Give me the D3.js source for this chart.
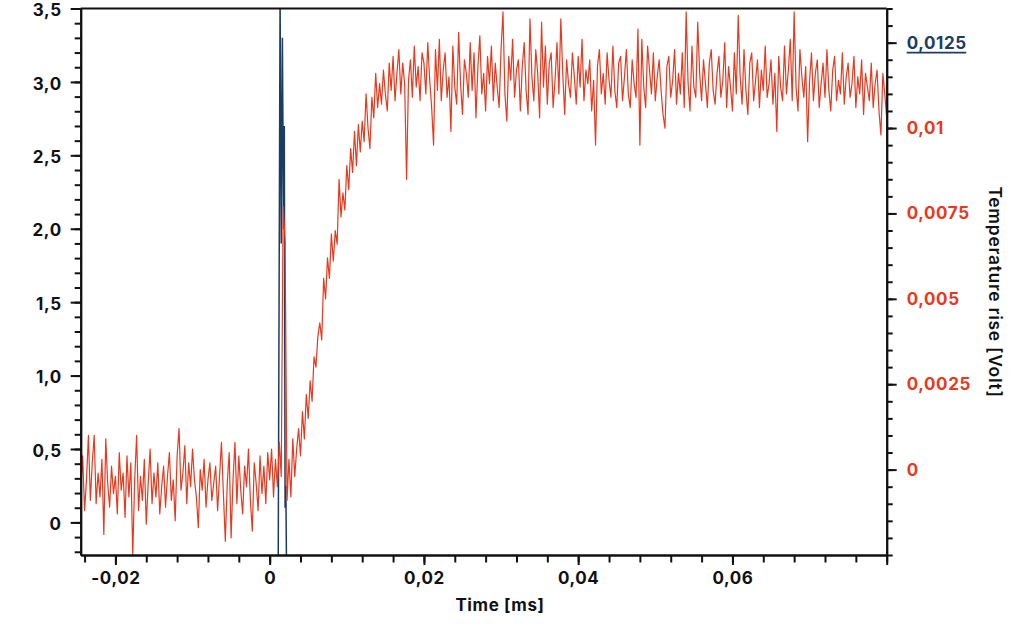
<!DOCTYPE html>
<html>
<head>
<meta charset="utf-8">
<script src="https://cdn.jsdelivr.net/npm/d3@7"></script>
<style>
  html, body { margin: 0; padding: 0; background: #ffffff; }
  svg { display: block; }
  text { font-family: "Inter", "DejaVu Sans", sans-serif; }
</style>
</head>
<body>
<svg id="chart" width="1024" height="634"></svg>
<script>
// ---------- data ----------
// Temperature rise signal (red), in millivolts, sampled every redTimeStep ms from redTimeStart
const redTimeStart = -0.0245;
const redTimeStep = 0.00025;
const redMilliVolt = [
  -0.6, 0.4, -1.2, -0.3, 1.0, -0.9, 0.2, 1.0, -1.0, -0.1,
  -0.8, 0.3, -1.9, 0.9, -0.4, -1.1, 0.1, -0.7, -0.2, -1.3,
  0.5, -0.6, -0.1, -1.4, 0.4, -0.8, 0.2, -2.5, -0.3, 1.0,
  -1.2, -0.2, -0.9, 0.3, -1.6, -0.4, 0.6, -1.0, -0.1, -0.8,
  0.2, -1.3, -0.5, 0.1, -1.1, -0.2, 0.5, -0.9, -0.3, -1.5,
  0.4, 1.2, -0.6, -0.1, 0.7, -1.0, 0.2, -0.5, 0.6, -0.3,
  -0.8, -1.7, 0.0, -0.6, 0.3, -1.1, -0.3, 0.2, -0.9, -0.4,
  0.1, -1.2, -0.2, 0.8, -0.7, -2.1, -0.4, 0.5, -2.0, -0.3,
  0.8, -1.0, 0.4, -0.6, -1.3, 0.1, -0.5, 0.6, -0.9, -1.8,
  0.2, -0.4, -1.2, 0.4, -0.7, 0.1, -1.0, 0.5, -0.3, 0.6,
  -0.8, 0.3, -0.5, 0.8, -0.2, 7.7, 6.7, -0.9, 0.3, -0.8,
  0.9, -0.2, 0.6, 1.2, 0.4, 1.7, 0.9, 2.2, 1.5, 2.6,
  2.0, 3.3, 3.0, 3.9, 4.3, 3.8, 5.6, 5.0, 6.2, 5.6,
  6.9, 6.1, 7.0, 6.6, 8.5, 7.4, 8.1, 7.6, 8.9, 8.2,
  9.4, 8.7, 9.9, 8.9, 10.1, 9.3, 10.2, 9.6, 11.0, 10.0,
  9.4, 10.9, 10.3, 11.6, 10.6, 11.3, 10.7, 11.7, 11.0, 10.5,
  11.9, 11.1, 12.1, 10.8, 11.6, 12.3, 11.0, 11.9, 11.3, 8.5,
  11.4, 12.0, 10.9, 12.4, 11.2, 11.8, 10.8, 12.2, 11.9, 11.0,
  12.5, 11.4, 10.6, 9.5, 12.3, 11.1, 12.6, 10.8, 11.7, 12.2,
  10.9, 11.5, 9.9, 12.4, 11.2, 10.7, 12.8, 11.3, 10.4, 12.0,
  11.6, 10.9, 12.5, 11.1, 12.2, 10.3, 11.8, 12.7, 11.0, 11.6,
  10.5, 12.1, 11.3, 12.4, 10.8, 11.9, 11.2, 10.6, 12.3, 13.4,
  11.0, 10.2, 12.1, 11.4, 12.6, 10.9, 11.7, 12.0, 10.5, 11.8,
  12.5, 11.1, 10.4, 13.2, 11.5, 10.8, 12.3, 11.6, 10.3, 13.1,
  11.2, 12.4, 10.7, 11.9, 12.2, 10.6, 11.4, 12.5, 11.0, 13.2,
  11.6, 10.4, 12.0, 11.3, 10.9, 12.2, 11.5, 10.7, 12.1, 11.2,
  12.6, 10.8, 11.7, 11.3, 12.0, 10.5, 11.4, 9.5, 11.8, 12.3,
  11.0, 11.6, 10.7, 12.2, 11.4, 10.9, 12.4, 11.1, 10.6, 11.9,
  12.1, 10.8, 11.5, 12.3, 11.0, 10.6, 12.0, 11.3, 10.9, 12.9,
  9.5, 12.6, 11.2, 10.6, 12.4, 11.7, 11.0, 12.2, 10.8, 11.5,
  12.0, 11.1, 10.4, 10.0, 11.8, 12.1, 10.9, 11.4, 12.3, 10.7,
  11.6, 11.0, 12.2, 10.6, 13.4, 11.3, 10.5, 12.4, 11.2, 10.9,
  13.1, 11.6, 10.8, 12.0, 11.3, 10.6, 11.9, 12.3, 11.1, 10.7,
  11.6, 12.1, 10.9, 11.4, 12.5, 10.6, 11.8, 11.2, 10.5, 12.2,
  11.0, 13.3, 11.5, 10.7, 12.3, 11.1, 10.4, 11.9, 12.2, 10.8,
  11.4, 12.0, 10.6, 11.7, 11.1, 12.4, 10.9, 11.3, 12.0, 10.7,
  11.6, 9.9, 12.1, 11.2, 10.8, 12.4, 11.0, 11.7, 12.6, 10.8,
  13.4, 11.2, 10.5, 12.3, 11.5, 10.9, 11.8, 9.6, 11.4, 12.2,
  10.8, 11.6, 12.0, 10.6, 11.3, 11.9, 10.9, 12.3, 11.1, 10.5,
  11.7, 12.1, 10.8, 11.4, 11.0, 12.2, 10.7, 11.5, 11.9, 10.9,
  11.3, 12.1, 10.6, 11.5, 11.0, 12.0, 10.4, 11.6, 11.2, 10.8,
  11.9, 10.6, 11.3, 11.7, 10.5, 9.8, 11.6, 11.0, 10.3
];

// Trigger / excitation signal (blue), left axis
const blueTime = [-0.0245, 0.0011, 0.00135, 0.0015, 0.00165, 0.0018, 0.0019, 0.002, 0.0021, 0.00215, 0.0022, 0.0025, 0.08];
const blueVolt = [-0.4, -0.4, 3.6, 1.9, 3.3, 2.0, 2.7, 0.1, 0.25, -0.1, -0.4, -0.4, -0.4];

// Axis ticks
const xTickValues = [-0.02, 0, 0.02, 0.04, 0.06, 0.08];
const xTickLabels = ["-0,02", "0", "0,02", "0,04", "0,06", ""];
const leftTickValues = [0, 0.5, 1, 1.5, 2, 2.5, 3, 3.5];
const leftTickLabels = ["0", "0,5", "1,0", "1,5", "2,0", "2,5", "3,0", "3,5"];
const rightTickValues = [0, 0.0025, 0.005, 0.0075, 0.01, 0.0125];
const rightTickLabels = ["0", "0,0025", "0,005", "0,0075", "0,01", "0,0125"];

const xTitle = "Time [ms]";
const rightTitle = "Temperature rise [Volt]";

// ---------- layout ----------
const RED = "#e8391e";
const BLUE = "#1c3d63";
const INK = "#111111";
const plotL = 80.7, plotR = 886.7, plotT = 8.5, plotB = 555;

const svg = d3.select("#chart");

const x = d3.scaleLinear().domain([-0.0245, 0.08]).range([plotL, plotR]);
const yL = d3.scaleLinear().domain([-0.222, 3.5]).range([plotB, plotT]);
const yR = d3.scaleLinear().domain([-0.0025, 0.0135]).range([plotB, plotT]);

svg.append("defs").append("clipPath").attr("id", "plotclip")
  .append("rect").attr("x", plotL).attr("y", plotT)
  .attr("width", plotR - plotL).attr("height", plotB - plotT);

// ---------- series ----------
const plotG = svg.append("g").attr("clip-path", "url(#plotclip)");

const blueData = blueTime.map((t, i) => ({ t, v: blueVolt[i] }));
plotG.append("path")
  .datum(blueData)
  .attr("fill", "none")
  .attr("stroke", BLUE)
  .attr("stroke-width", 1.5)
  .attr("d", d3.line().x(d => x(d.t)).y(d => yL(d.v)));

const redData = redMilliVolt.map((mv, i) => ({ t: redTimeStart + i * redTimeStep, v: mv / 1000 }));
plotG.append("path")
  .datum(redData)
  .attr("fill", "none")
  .attr("stroke", RED)
  .attr("stroke-width", 1.2)
  .attr("stroke-linejoin", "round")
  .attr("d", d3.line().x(d => x(d.t)).y(d => yR(d.v)));

// ---------- axes ----------
function styleAxis(g) {
  g.selectAll(".domain").attr("stroke", INK).attr("stroke-width", 2);
  g.selectAll(".tick line").attr("stroke", INK).attr("stroke-width", 2);
  g.selectAll("text")
    .attr("fill", INK)
    .style("font-family", "Inter, 'DejaVu Sans', sans-serif")
    .style("font-size", "17px")
    .style("font-weight", "700")
    .style("letter-spacing", "0.6px");
}

// top frame
svg.append("line")
  .attr("x1", plotL).attr("x2", plotR).attr("y1", plotT).attr("y2", plotT)
  .attr("stroke", INK).attr("stroke-width", 2);

// bottom axis: minor ticks
const xMinor = d3.range(-6, 21).map(i => +(i * 0.004).toFixed(4));
svg.append("g").attr("transform", `translate(0,${plotB})`)
  .call(d3.axisBottom(x).tickValues(xMinor).tickSize(7.5).tickSizeOuter(0).tickFormat(""))
  .call(styleAxis);
const xAxisG = svg.append("g").attr("transform", `translate(0,${plotB})`)
  .call(d3.axisBottom(x).tickValues(xTickValues).tickSize(10).tickSizeOuter(0).tickPadding(7)
    .tickFormat((d, i) => xTickLabels[i]))
  .call(styleAxis);

// left axis
const yLMinor = d3.range(-2, 36).map(i => +(i * 0.1).toFixed(2));
svg.append("g").attr("transform", `translate(${plotL},0)`)
  .call(d3.axisLeft(yL).tickValues(yLMinor).tickSize(6).tickSizeOuter(0).tickFormat(""))
  .call(styleAxis);
const yLAxisG = svg.append("g").attr("transform", `translate(${plotL},0)`)
  .call(d3.axisLeft(yL).tickValues(leftTickValues).tickSize(10).tickSizeOuter(0).tickPadding(9)
    .tickFormat((d, i) => leftTickLabels[i]))
  .call(styleAxis);
yLAxisG.selectAll("text").attr("dy", "0.42em");

// right axis
const yRMinor = d3.range(-5, 28).map(i => +(i * 0.0005).toFixed(5));
svg.append("g").attr("transform", `translate(${plotR},0)`)
  .call(d3.axisRight(yR).tickValues(yRMinor).tickSize(6).tickSizeOuter(0).tickFormat(""))
  .call(styleAxis);
const yRAxisG = svg.append("g").attr("transform", `translate(${plotR},0)`)
  .call(d3.axisRight(yR).tickValues(rightTickValues).tickSize(10).tickSizeOuter(0).tickPadding(10)
    .tickFormat((d, i) => rightTickLabels[i]))
  .call(styleAxis);
yRAxisG.selectAll("text")
  .attr("fill", (d, i) => i === rightTickValues.length - 1 ? BLUE : RED);

// underline under the top right label
yRAxisG.selectAll(".tick").filter((d, i) => i === rightTickValues.length - 1)
  .each(function () {
    const t = d3.select(this).select("text");
    const bb = t.node().getBBox();
    d3.select(this).append("line")
      .attr("x1", bb.x).attr("x2", bb.x + bb.width - 0.6)
      .attr("y1", 9.5).attr("y2", 9.5)
      .attr("stroke", BLUE).attr("stroke-width", 1.6);
  });

// titles
svg.append("text")
  .attr("x", 500).attr("y", 611)
  .attr("text-anchor", "middle")
  .attr("fill", INK)
  .style("font-size", "17px").style("font-weight", "700")
  .style("letter-spacing", "0.6px")
  .text(xTitle);

svg.append("text")
  .attr("transform", "translate(995,292) rotate(90)")
  .attr("text-anchor", "middle")
  .attr("dy", "0.35em")
  .attr("fill", INK)
  .style("font-size", "17.5px").style("font-weight", "600")
  .style("letter-spacing", "0.7px")
  .text(rightTitle);
</script>
</body>
</html>
